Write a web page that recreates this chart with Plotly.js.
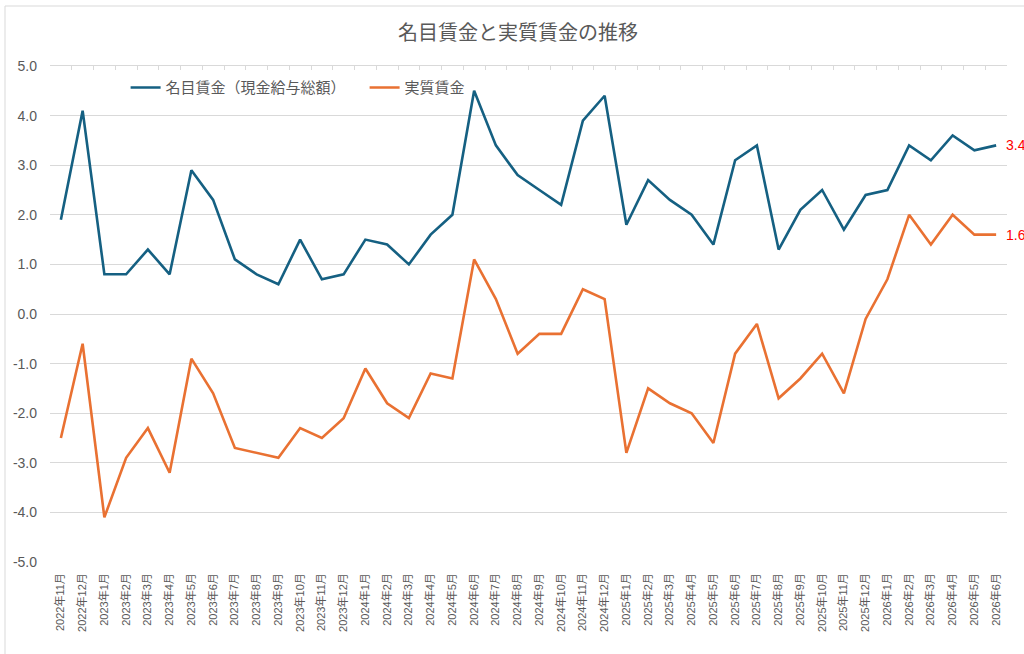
<!DOCTYPE html>
<html>
<head>
<meta charset="utf-8">
<script src="https://cdn.plot.ly/plotly-3.0.1.min.js"></script>
<style>html,body{margin:0;padding:0;background:#fff;}#chart{width:1024px;height:654px;}</style>
</head>
<body>
<div id="chart"></div>
<script>
var months = ["2022年11月","2022年12月","2023年1月","2023年2月","2023年3月","2023年4月","2023年5月","2023年6月","2023年7月","2023年8月","2023年9月","2023年10月","2023年11月","2023年12月","2024年1月","2024年2月","2024年3月","2024年4月","2024年5月","2024年6月","2024年7月","2024年8月","2024年9月","2024年10月","2024年11月","2024年12月","2025年1月","2025年2月","2025年3月","2025年4月","2025年5月","2025年6月","2025年7月","2025年8月","2025年9月","2025年10月","2025年11月","2025年12月","2026年1月","2026年2月","2026年3月","2026年4月","2026年5月","2026年6月"];
var nominalWage = [1.9,4.1,0.8,0.8,1.3,0.8,2.9,2.3,1.1,0.8,0.6,1.5,0.7,0.8,1.5,1.4,1.0,1.6,2.0,4.5,3.4,2.8,2.5,2.2,3.9,4.4,1.8,2.7,2.3,2.0,1.4,3.1,3.4,1.3,2.1,2.5,1.7,2.4,2.5,3.4,3.1,3.6,3.3,3.4];
var realWage = [-2.5,-0.6,-4.1,-2.9,-2.3,-3.2,-0.9,-1.6,-2.7,-2.8,-2.9,-2.3,-2.5,-2.1,-1.1,-1.8,-2.1,-1.2,-1.3,1.1,0.3,-0.8,-0.4,-0.4,0.5,0.3,-2.8,-1.5,-1.8,-2.0,-2.6,-0.8,-0.2,-1.7,-1.3,-0.8,-1.6,-0.1,0.7,2.0,1.4,2.0,1.6,1.6];
var yTickVals = [5,4,3,2,1,0,-1,-2,-3,-4,-5];
var yTickText = ["5.0","4.0","3.0","2.0","1.0","0.0","-1.0","-2.0","-3.0","-4.0","-5.0"];
var seriesNames = ["名目賃金（現金給与総額）","実質賃金"];
var seriesColors = ["#156082","#E97132"];

var FONT = "Liberation Sans, Arial, 'Noto Sans CJK JP', sans-serif";
var TXT = "#595959";
var GRID = "#D9D9D9";
var n = months.length;

var traces = [
  {x: months, y: nominalWage, type: "scatter", mode: "lines", name: seriesNames[0],
   xaxis: "x", yaxis: "y", line: {color: seriesColors[0], width: 2.6}},
  {x: months, y: realWage, type: "scatter", mode: "lines", name: seriesNames[1],
   xaxis: "x2", yaxis: "y", line: {color: seriesColors[1], width: 2.6}}
];

var lastIdx = n - 1;
var layout = {
  width: 1024, height: 654,
  margin: {l: 50, r: 17, t: 66, b: 92, pad: 0},
  paper_bgcolor: "#fff", plot_bgcolor: "#fff",
  font: {family: FONT, color: TXT},
  showlegend: true,
  title: {text: "名目賃金と実質賃金の推移", font: {size: 20, color: TXT, family: FONT},
          x: 518/1024, xanchor: "center", xref: "container", y: 1 - 33/654, yanchor: "middle", yref: "container"},
  legend: {orientation: "h", x: 0.079, xanchor: "left", y: 0.956, yanchor: "middle",
           font: {size: 15, color: TXT, family: FONT}, bgcolor: "rgba(0,0,0,0)",
           entrywidth: 194, entrywidthmode: "pixels", traceorder: "normal"},
  xaxis: {type: "category", range: [-0.5, n - 0.5], tickangle: -90, showgrid: false, zeroline: false,
          showline: false, ticks: "", tickfont: {size: 11, color: TXT, family: FONT},
          ticklabelstandoff: 8, fixedrange: true},
  xaxis2: {type: "category", overlaying: "x", anchor: "y", side: "top", range: [-0.5, n - 0.5],
           tickson: "boundaries", showticklabels: false, ticks: "inside", ticklen: 4, tickcolor: GRID,
           tickwidth: 1, showline: true, linecolor: GRID, linewidth: 1, showgrid: false, zeroline: false},
  yaxis: {range: [-5, 5], tickmode: "array", tickvals: yTickVals, ticktext: yTickText,
          showgrid: false, zeroline: false, showline: false, ticks: "",
          tickfont: {size: 14, color: TXT, family: FONT}, ticklabelstandoff: 12,
          minor: {tickmode: "array", tickvals: yTickVals.slice(1, yTickVals.length - 1),
                  showgrid: true, gridcolor: GRID, gridwidth: 1, ticks: ""}},
  annotations: [
    {x: months[lastIdx], y: nominalWage[lastIdx], xref: "x", yref: "y", text: nominalWage[lastIdx].toFixed(1),
     showarrow: false, xanchor: "left", yanchor: "middle", xshift: 8, font: {size: 14, color: "#FF0000", family: FONT}},
    {x: months[lastIdx], y: realWage[lastIdx], xref: "x", yref: "y", text: realWage[lastIdx].toFixed(1),
     showarrow: false, xanchor: "left", yanchor: "middle", xshift: 8, font: {size: 14, color: "#FF0000", family: FONT}}
  ],
  shapes: [
    {type: "rect", xref: "paper", yref: "paper", x0: -45/957, x1: 1.03, y0: -0.2, y1: 1 + 60/496,
     line: {color: GRID, width: 1}, fillcolor: "rgba(0,0,0,0)", layer: "below"}
  ]
};

Plotly.newPlot("chart", traces, layout, {displayModeBar: false, staticPlot: true});
</script>
</body>
</html>
